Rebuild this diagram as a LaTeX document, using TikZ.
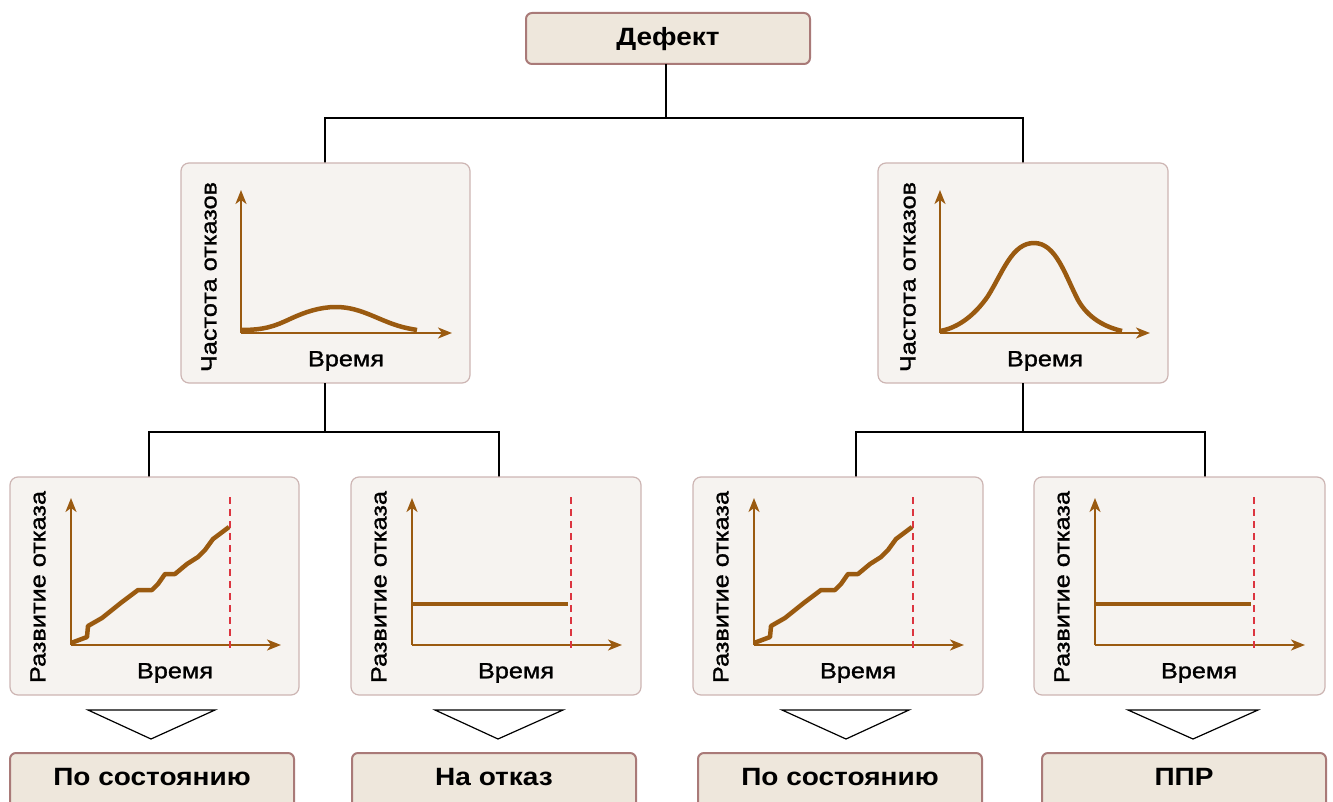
\documentclass[tikz,border=0pt]{standalone}
\usepackage{fontspec}
\setmainfont{Liberation Sans}
\newfontfamily\axfont[FakeStretch=1.15, FakeBold=1.2]{Liberation Sans}
\newfontfamily\bxfont[FakeStretch=1.12]{Liberation Sans Bold}
\usetikzlibrary{arrows.meta}
\definecolor{topfill}{HTML}{EEE7DC}
\definecolor{topdraw}{HTML}{A97A78}
\definecolor{panfill}{HTML}{F6F3F0}
\definecolor{pandraw}{HTML}{CDB5B3}
\definecolor{curve}{HTML}{9A5A10}
\definecolor{dash}{HTML}{DC3540}
\tikzset{
  labelbox/.style={draw=topdraw, fill=topfill, line width=2pt, rounded corners=6pt},
  panel/.style={draw=pandraw, fill=panfill, line width=1.2pt, rounded corners=8pt},
  conn/.style={draw=black, line width=2pt},
  axis/.style={draw=curve, line width=2pt, -{Stealth[length=14pt,width=11pt,inset=4pt]}},
  crv/.style={draw=curve, line width=4.5pt, line join=round},
  limit/.style={draw=dash, line width=1.5pt, dash pattern=on 7pt off 5pt},
  tri/.style={draw=black, line width=1.2pt, fill=white},
  boldtxt/.style={font=\bxfont\fontsize{25}{28}\selectfont},
  axtxt/.style={font=\axfont\fontsize{22}{24}\selectfont},
}
\begin{document}
\begin{tikzpicture}[x=1pt,y=-1pt]
\path[use as bounding box] (0,0) rectangle (1333,802);
\clip (0,0) rectangle (1333,802);
% top
\draw[labelbox] (526,13) rectangle (810,64);
\node[boldtxt] (top) at (668,39) {Дефект};
\coordinate (tb) at (666,64);
% connectors top
\coordinate (j1) at (666,118);
\coordinate (jl) at (325,118);
\coordinate (jr) at (1023,118);
\coordinate (ml) at (325,163);
\coordinate (mr) at (1023,163);
\draw[conn] (tb) -- (j1);
\draw[conn] (ml) -- (jl) -- (jr) -- (mr);
% middle panels
\draw[panel] (181,163) rectangle (470,383);
\draw[panel] (878,163) rectangle (1168,383);
% lower connectors
\coordinate (mlb) at (325,383);
\coordinate (mrb) at (1023,383);
\coordinate (a1) at (149,477);
\coordinate (a2) at (499,477);
\coordinate (a3) at (856,477);
\coordinate (a4) at (1205,477);
\draw[conn] (mlb) -- (325,432);
\draw[conn] (a1) -- (149,432) -- (499,432) -- (a2);
\draw[conn] (mrb) -- (1023,432);
\draw[conn] (a3) -- (856,432) -- (1205,432) -- (a4);
% bottom panels
\draw[panel] (10,477) rectangle (299,695);
\draw[panel] (351,477) rectangle (641,695);
\draw[panel] (693,477) rectangle (983,695);
\draw[panel] (1034,477) rectangle (1325,695);
% middle-left chart
\draw[axis] (241,333) -- (241,190);
\draw[axis] (241,333) -- (452,333);
\draw[crv] (241,330) .. controls (265,330) and (275,326) .. (290,319)
  .. controls (305,312) and (320,307) .. (336,307)
  .. controls (355,307) and (370,315) .. (385,321)
  .. controls (397,326) and (405,328) .. (417,330);
\node[axtxt, rotate=90] (yl1) at (209,277) {Частота отказов};
\node[axtxt] (xl1) at (346,361) {Время};
% middle-right chart
\draw[axis] (940,333) -- (940,190);
\draw[axis] (940,333) -- (1150,333);
\draw[crv] (940,331) .. controls (958,328) and (975,315) .. (988,296)
  .. controls (1003,272) and (1012,243) .. (1034,243)
  .. controls (1056,243) and (1065,275) .. (1078,300)
  .. controls (1088,318) and (1105,327) .. (1122,331);
\node[axtxt, rotate=90] (yl2) at (908,277) {Частота отказов};
\node[axtxt] (xl2) at (1045,361) {Время};
% bottom chart template
\foreach \dx/\kind in {0/1, 341/2, 683/1, 1024/2} {
  \begin{scope}[xshift=\dx pt]
    \draw[axis] (71,645) -- (71,498);
    \draw[axis] (71,645) -- (281,645);
    \draw[limit] (230,497) -- (230,650);
    \node[axtxt, rotate=90] at (38,587) {Развитие отказа};
    \node[axtxt] at (175,673) {Время};
    \ifnum\kind=1
      \draw[crv] (71,643) -- (87,637) -- (88,626) -- (102,618) -- (122,602)
        -- (138,590) -- (152,590) -- (158,584) -- (165,574) -- (175,574)
        -- (187,564) -- (198,557) -- (205,550) -- (213,539) -- (229,527);
    \else
      \draw[crv] (71,604) -- (227,604);
    \fi
  \end{scope}
}
% triangles
\draw[tri] (88,710) -- (215,710) -- (151,739) -- cycle;
\draw[tri] (435,710) -- (563,710) -- (498,739) -- cycle;
\draw[tri] (782,710) -- (909,710) -- (846,739) -- cycle;
\draw[tri] (1128,710) -- (1258,710) -- (1193,739) -- cycle;
% result boxes
\draw[labelbox] (10,753) rectangle (294,815);
\draw[labelbox] (352,753) rectangle (636,815);
\draw[labelbox] (698,753) rectangle (982,815);
\draw[labelbox] (1042,753) rectangle (1326,815);
\node[boldtxt] (r1) at (152,777) {По состоянию};
\node[boldtxt] (r2) at (494,777) {На отказ};
\node[boldtxt] (r3) at (840,777) {По состоянию};
\node[boldtxt] (r4) at (1184,777) {ППР};
\end{tikzpicture}
\end{document}
